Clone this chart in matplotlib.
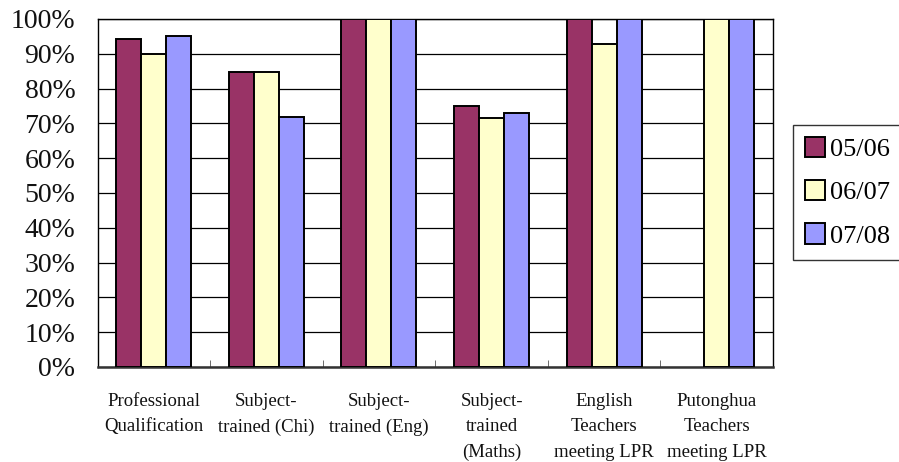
import numpy as np
import matplotlib
matplotlib.use("Agg")
import matplotlib.pyplot as plt

categories = [
    "Professional\nQualification",
    "Subject-\ntrained (Chi)",
    "Subject-\ntrained (Eng)",
    "Subject-\ntrained\n(Maths)",
    "English\nTeachers\nmeeting LPR",
    "Putonghua\nTeachers\nmeeting LPR",
]
years = ["05/06", "06/07", "07/08"]
vals_0506 = [94.3, 84.7, 100, 75.0, 100, np.nan]
vals_0607 = [89.9, 84.7, 100, 71.5, 92.7, 100]
vals_0708 = [95.0, 71.9, 100, 73.1, 100, 100]
colors = ["#993366", "#FFFFCC", "#9999FF"]
yticks = list(range(0, 101, 10))

plt.rcParams["font.family"] = ["Liberation Serif", "DejaVu Serif"]

fig = plt.figure(figsize=(8.99, 4.62), dpi=100)
ax = fig.add_axes([97.5 / 899, 1 - 367 / 462, (773 - 97.5) / 899, (367 - 19) / 462])

x = np.arange(len(categories))
w = 0.222
series = [vals_0506, vals_0607, vals_0708]
for i, (vals, col, lab) in enumerate(zip(series, colors, years)):
    v = np.array(vals, dtype=float)
    mask = ~np.isnan(v)
    ax.bar(x[mask] + (i - 1) * w, v[mask], width=w, color=col,
           edgecolor="black", linewidth=1.4, label=lab, zorder=3)

ax.set_xlim(-0.5, len(categories) - 0.5)
ax.set_ylim(0, 100)
ax.set_yticks(yticks)
ax.set_yticklabels([f"{t}%" for t in yticks], fontsize=20, color="#111111")
ax.yaxis.grid(True, color="black", linewidth=0.9, zorder=0)
ax.set_axisbelow(True)
ax.tick_params(axis="y", length=0, pad=16)

ax.set_xticks(x)
ax.set_xticklabels(categories, fontsize=13.5, color="#111111", linespacing=1.62, va="top")
ax.tick_params(axis="x", length=0, pad=19)
ax.set_xticks(np.arange(len(categories) - 1) + 0.5, minor=True)
ax.tick_params(axis="x", which="minor", direction="in", length=5, color="#555555")

for s in ax.spines.values():
    s.set_color("black")
    s.set_linewidth(1.0)
ax.spines["bottom"].set_linewidth(1.8)
ax.spines["bottom"].set_color("#333333")

leg = fig.legend(loc="upper left", bbox_to_anchor=(793 / 899, 1 - 125 / 462),
                 bbox_transform=fig.transFigure, fontsize=19, frameon=True,
                 fancybox=False, shadow=False, handlelength=0.75, handleheight=0.8,
                 handletextpad=0.22, labelspacing=0.72, borderpad=0.45, borderaxespad=0)
leg.get_frame().set_edgecolor("black")
leg.get_frame().set_linewidth(1.0)

fig.savefig("out.png", dpi=100)
